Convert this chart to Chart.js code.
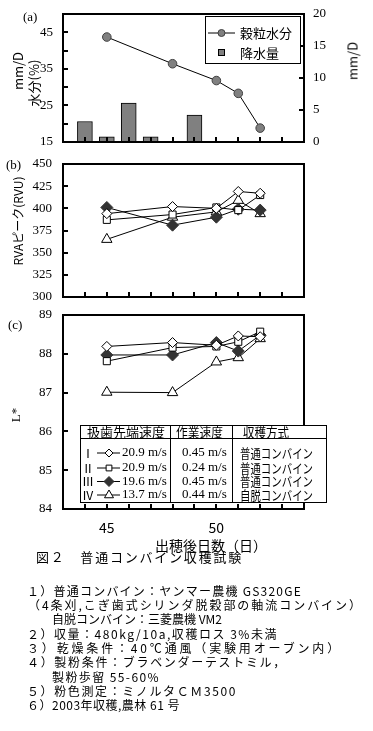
<!DOCTYPE html>
<html><head><meta charset="utf-8">
<script src="https://cdn.jsdelivr.net/npm/chart.js@4/dist/chart.umd.min.js"></script>
<style>
html,body{margin:0;padding:0;background:#fff;}
#wrap{position:relative;width:373px;height:731px;overflow:hidden;font-family:"Noto Sans CJK JP",sans-serif;color:#000;}
canvas{position:absolute;left:0;}
.t{position:absolute;white-space:nowrap;line-height:1;font-size:13px;}
.rot{transform:translate(-50%,-50%) rotate(-90deg);}
.serif{font-family:"Liberation Serif",serif;}
.cap{position:absolute;white-space:nowrap;font-size:12px;line-height:14px;height:14px;}
</style></head>
<body><div id="wrap">
<canvas id="ca" width="373" height="150" style="top:0"></canvas>
<canvas id="cb" width="373" height="155" style="top:150px"></canvas>
<canvas id="cc" width="373" height="240" style="top:300px"></canvas>

<div class="t serif" style="left:23px;top:10px;">(a)</div>
<div class="t rot" style="left:17px;top:71px;">mm/D</div>
<div class="t rot" style="left:33px;top:83px;">水分(%)</div>
<div class="t rot" style="left:352px;top:61px;">mm/D</div>
<div class="t serif" style="left:6px;top:158px;">(b)</div>
<div class="t rot" style="left:18px;top:221px;font-size:12px;">RVAピーク(RVU)</div>
<div class="t serif" style="left:8px;top:318px;">(c)</div>
<div class="t rot serif" style="left:15px;top:415px;">L*</div>
<div class="t" style="left:211px;top:545px;transform:translate(-50%,-50%);font-size:14px;">出穂後日数（日）</div>

<div class="cap" data-w="207" style="left:36px;top:550px;font-size:13px;">図２　普通コンバイン収穫試験</div>
<div class="cap" data-w="275" style="left:27px;top:584px;">１）普通コンバイン：ヤンマー農機 GS320GE</div>
<div class="cap" data-w="335" style="left:28px;top:598px;">（4条刈,こぎ歯式シリンダ脱穀部の軸流コンバイン）</div>
<div class="cap" data-w="170" style="left:52px;top:612px;">自脱コンバイン：三菱農機 VM2</div>
<div class="cap" data-w="251" style="left:27px;top:627px;">２）収量：480kg/10a,収穫ロス 3%未満</div>
<div class="cap" data-w="315" style="left:27px;top:641px;">３）乾燥条件：40℃通風（実験用オーブン内）</div>
<div class="cap" data-w="260" style="left:27px;top:655px;">４）製粉条件：ブラベンダーテストミル，</div>
<div class="cap" data-w="108" style="left:52px;top:670px;">製粉歩留 55-60%</div>
<div class="cap" data-w="210" style="left:27px;top:684px;">５）粉色測定：ミノルタＣＭ3500</div>
<div class="cap" data-w="153" style="left:27px;top:698px;">６）2003年収穫,農林 61 号</div>
</div>
<script>
// (a) 穀粒水分と降水量
var moistDays = [45, 48, 50, 51, 52];
var moisture = [43.7, 36.4, 31.8, 28.3, 18.8];
var rainDays = [44, 45, 46, 47, 49];
var rainfall = [3.2, 0.8, 6.1, 0.8, 4.2];

// (b)(c) 試験区 I〜IV
var sampleDays = [45, 48, 50, 51, 52];
var rvaI = [394, 402, 400, 419, 417];
var rvaII = [387, 393, 401, 398, 415];
var rvaIII = [401, 381, 390, 399, 398];
var rvaIV = [365, 390, 396, 409, 394];
var lI = [88.19, 88.29, 88.22, 88.46, 88.44];
var lII = [87.81, 88.16, 88.19, 88.31, 88.57];
var lIII = [87.97, 87.97, 88.29, 88.07, 88.48];
var lIV = [87.01, 87.0, 87.79, 87.9, 88.39];

var dayLabels = [45, 50];
var moistTickLabels = [15, 25, 35, 45];
var legendA = ['穀粒水分', '降水量'];
var tableHead = ['扱歯先端速度', '作業速度', '収穫方式'];
var plotNames = ['Ⅰ', 'Ⅱ', 'Ⅲ', 'Ⅳ'];
var tipSpeed = ['20.9 m/s', '20.9 m/s', '19.6 m/s', '13.7 m/s'];
var workSpeed = ['0.45 m/s', '0.24 m/s', '0.45 m/s', '0.44 m/s'];
var harvestType = ['普通コンバイン', '普通コンバイン', '普通コンバイン', '自脱コンバイン'];

var jp = '"Noto Sans CJK JP", sans-serif';
var serif = '"Liberation Serif", serif';
Chart.defaults.font.family = serif;
Chart.defaults.font.size = 13;
Chart.defaults.color = '#000';

var markers = [
    { pointStyle: 'rectRot', pointRadius: 5, pointBackgroundColor: '#fff', pointBorderColor: '#000' },
    { pointStyle: 'rect', pointRadius: 5, pointBackgroundColor: '#fff', pointBorderColor: '#000' },
    { pointStyle: 'rectRot', pointRadius: 6, pointBackgroundColor: '#333', pointBorderColor: '#333' },
    { pointStyle: 'triangle', pointRadius: 6, pointBackgroundColor: '#fff', pointBorderColor: '#000' }
];

function pts(xs, ys) {
    return xs.map(function (x, i) { return { x: x, y: ys[i] }; });
}

// 目盛線は透明にして文字との間隔だけに使い、内向きの目盛は frame で描く
function gapGrid(gap) {
    return { offset: false, drawOnChartArea: false, drawTicks: true, tickLength: gap, color: 'rgba(0,0,0,0)', tickColor: 'rgba(0,0,0,0)' };
}

function xScale(h, labels) {
    return {
        type: 'linear', min: 43, max: 54, offset: false,
        grid: gapGrid(10), border: { display: false },
        ticks: {
            stepSize: 1, autoSkip: false, maxRotation: 0, padding: 0,
            font: { family: jp, size: 14 },
            callback: function (v) { return labels && dayLabels.indexOf(v) >= 0 ? String(v) : ''; }
        },
        afterFit: function (s) { s.height = h; }
    };
}

function yScale(pos, min, max, step, w, gap, show) {
    return {
        position: pos, min: min, max: max,
        grid: gapGrid(gap), border: { display: false },
        ticks: {
            stepSize: step, autoSkip: false, padding: 0,
            callback: function (v) { return !show || show.indexOf(v) >= 0 ? String(v) : ''; }
        },
        afterFit: function (s) { s.width = w; }
    };
}

var frame = {
    id: 'frame',
    afterDatasetsDraw: function (chart) {
        var ctx = chart.ctx, a = chart.chartArea;
        ctx.save();
        ctx.lineWidth = 2;
        ctx.strokeStyle = '#000';
        ctx.beginPath();
        Object.keys(chart.scales).forEach(function (k) {
            var s = chart.scales[k];
            s.ticks.forEach(function (t) {
                var p = Math.round(s.getPixelForValue(t.value));
                if (s.axis === 'x') {
                    ctx.moveTo(p, a.bottom); ctx.lineTo(p, a.bottom - 5);
                } else if (s.position === 'left') {
                    ctx.moveTo(a.left, p); ctx.lineTo(a.left + 5, p);
                } else {
                    ctx.moveTo(a.right, p); ctx.lineTo(a.right - 5, p);
                }
            });
        });
        ctx.stroke();
        ctx.strokeRect(a.left, a.top, a.right - a.left, a.bottom - a.top);
        ctx.restore();
    }
};

function mark(ctx, style, r, x, y, fill, stroke) {
    ctx.save();
    ctx.fillStyle = fill;
    ctx.strokeStyle = stroke;
    ctx.lineWidth = 1;
    ctx.beginPath();
    if (style === 'rectRot') {
        ctx.moveTo(x, y - r); ctx.lineTo(x + r, y); ctx.lineTo(x, y + r); ctx.lineTo(x - r, y); ctx.closePath();
    } else if (style === 'rect') {
        ctx.rect(x - r * 0.72, y - r * 0.72, r * 1.44, r * 1.44);
    } else if (style === 'triangle') {
        ctx.moveTo(x, y - r); ctx.lineTo(x + r * 0.9, y + r * 0.55); ctx.lineTo(x - r * 0.9, y + r * 0.55); ctx.closePath();
    } else {
        ctx.arc(x, y, r, 0, Math.PI * 2);
    }
    ctx.fill();
    ctx.stroke();
    ctx.restore();
}

var legendBoxA = {
    id: 'legendBoxA',
    afterDraw: function (chart) {
        var ctx = chart.ctx, a = chart.chartArea;
        var x0 = a.right - 99, y0 = a.top + 2, w = 95, h = 47;
        ctx.save();
        ctx.fillStyle = '#fff';
        ctx.fillRect(x0, y0, w, h);
        ctx.strokeStyle = '#000';
        ctx.lineWidth = 1;
        ctx.strokeRect(x0 + 0.5, y0 + 0.5, w, h);
        ctx.beginPath();
        ctx.moveTo(x0 + 3, y0 + 17); ctx.lineTo(x0 + 30, y0 + 17);
        ctx.stroke();
        mark(ctx, 'circle', 3.5, x0 + 16.5, y0 + 17, '#808080', '#404040');
        ctx.fillStyle = '#808080';
        ctx.fillRect(x0 + 13, y0 + 33, 7, 7);
        ctx.strokeRect(x0 + 13.5, y0 + 33.5, 6, 6);
        ctx.fillStyle = '#000';
        ctx.font = '13px ' + jp;
        ctx.textBaseline = 'middle';
        ctx.fillText(legendA[0], x0 + 35, y0 + 17);
        ctx.fillText(legendA[1], x0 + 35, y0 + 37);
        ctx.restore();
    }
};

var tableC = {
    id: 'tableC',
    afterDraw: function (chart) {
        var ctx = chart.ctx, a = chart.chartArea;
        var x0 = a.left + 17, y0 = a.top + 110, x1 = a.right + 22, y1 = a.top + 187;
        var c1 = x0 + 90, c2 = x0 + 152, hy = y0 + 13;
        ctx.save();
        ctx.fillStyle = '#fff';
        ctx.fillRect(x0, y0, x1 - x0, y1 - y0);
        ctx.strokeStyle = '#000';
        ctx.lineWidth = 1;
        ctx.strokeRect(x0 + 0.5, y0 + 0.5, x1 - x0, y1 - y0);
        ctx.beginPath();
        ctx.moveTo(x0, hy + 0.5); ctx.lineTo(x1, hy + 0.5);
        ctx.moveTo(c1 + 0.5, y0); ctx.lineTo(c1 + 0.5, y1);
        ctx.moveTo(c2 + 0.5, y0); ctx.lineTo(c2 + 0.5, y1);
        ctx.stroke();
        ctx.fillStyle = '#000';
        ctx.textBaseline = 'middle';
        ctx.font = '13px ' + jp;
        ctx.fillText(tableHead[0], x0 + 7, y0 + 7, 79);
        ctx.fillText(tableHead[1], c1 + 6, y0 + 7, 47);
        ctx.fillText(tableHead[2], c2 + 11, y0 + 7, 46);
        var rows = [y0 + 28, y0 + 43, y0 + 56.5, y0 + 70];
        for (var i = 0; i < 4; i++) {
            var y = rows[i];
            ctx.fillStyle = '#000';
            ctx.font = '12px ' + jp;
            ctx.fillText(plotNames[i], x0 + 2, y, 12);
            ctx.beginPath();
            ctx.moveTo(x0 + 17, y); ctx.lineTo(x0 + 40, y);
            ctx.stroke();
            var m = markers[i];
            mark(ctx, m.pointStyle, m.pointRadius - 1, x0 + 29, y, m.pointBackgroundColor, m.pointBorderColor);
            ctx.fillStyle = '#000';
            ctx.font = '13px ' + serif;
            ctx.fillText(tipSpeed[i], x0 + 42, y, 48);
            ctx.fillText(workSpeed[i], c1 + 12, y, 46);
            ctx.font = '13px ' + jp;
            ctx.fillText(harvestType[i], c2 + 8, y, 73);
        }
        ctx.restore();
    }
};

var base = {
    responsive: false, animation: false, devicePixelRatio: 1,
    plugins: { legend: { display: false }, tooltip: { enabled: false } }
};

function opts(extra) {
    return Object.assign({}, base, extra);
}

new Chart(document.getElementById('ca'), {
    type: 'bar',
    data: {
        datasets: [{
            type: 'line', label: legendA[0], data: pts(moistDays, moisture), yAxisID: 'y',
            borderColor: '#000', borderWidth: 1, pointStyle: 'circle', pointRadius: 4.3,
            pointBackgroundColor: '#808080', pointBorderColor: '#404040', pointBorderWidth: 1, order: 0
        }, {
            type: 'bar', label: legendA[1], data: pts(rainDays, rainfall), yAxisID: 'y2',
            backgroundColor: '#808080', borderColor: '#000', borderWidth: 1, barThickness: 15, order: 1
        }]
    },
    options: opts({
        layout: { padding: { top: 14 } },
        scales: {
            x: xScale(8, false),
            y: yScale('left', 15, 50, 5, 63, 10, moistTickLabels),
            y2: yScale('right', 0, 20, 5, 69, 9, null)
        }
    }),
    plugins: [frame, legendBoxA]
});

function seriesSets(lists) {
    return lists.map(function (ys, i) {
        return Object.assign({
            label: plotNames[i], data: pts(sampleDays, ys),
            borderColor: '#000', borderWidth: 1, pointBorderWidth: 1, fill: false
        }, markers[i]);
    });
}

new Chart(document.getElementById('cb'), {
    type: 'line',
    data: { datasets: seriesSets([rvaI, rvaII, rvaIII, rvaIV]) },
    options: opts({
        layout: { padding: { top: 14, right: 69 } },
        scales: {
            x: xScale(8, false),
            y: yScale('left', 300, 450, 25, 63, 11, null)
        }
    }),
    plugins: [frame]
});

new Chart(document.getElementById('cc'), {
    type: 'line',
    data: { datasets: seriesSets([lI, lII, lIII, lIV]) },
    options: opts({
        layout: { padding: { top: 15, right: 69 } },
        scales: {
            x: xScale(31, true),
            y: yScale('left', 84, 89, 1, 63, 11, null)
        }
    }),
    plugins: [frame, tableC]
});

// 注釈の文字間を元の幅に合わせる
document.querySelectorAll('.cap').forEach(function (el) {
    var w = +el.dataset.w;
    var n = el.textContent.length;
    var natural = el.getBoundingClientRect().width;
    el.style.letterSpacing = ((w - natural) / n) + 'px';
});
</script>
</body></html>
